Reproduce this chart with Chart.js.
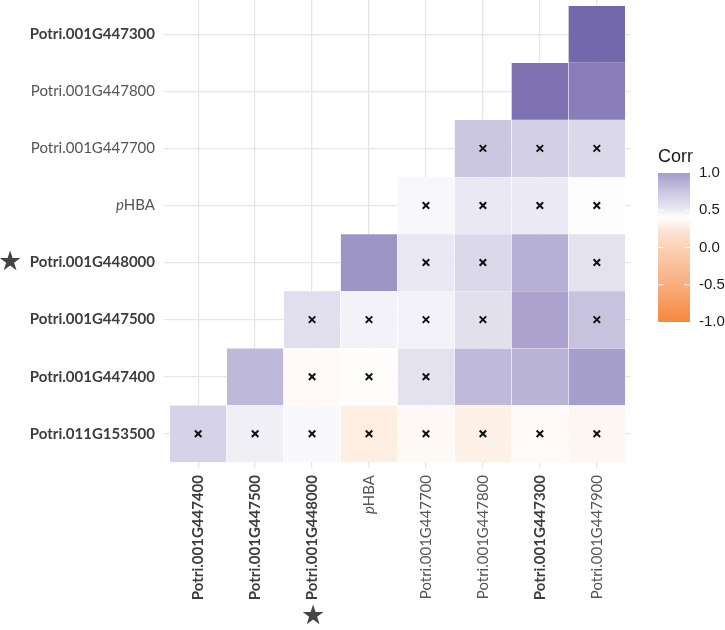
<!DOCTYPE html>
<html>
<head>
<meta charset="utf-8">
<script src="https://cdn.jsdelivr.net/npm/chart.js@4"></script>
<style>
  html,body{margin:0;padding:0;background:#fff;}
  #wrap{width:725px;height:630px;position:relative;}
</style>
</head>
<body>
<div id="wrap"><canvas id="chart_corr"></canvas></div>
<script>
// columns (left to right) and rows (bottom to top)
const colNames = ['Potri.001G447400','Potri.001G447500','Potri.001G448000','pHBA','Potri.001G447700','Potri.001G447800','Potri.001G447300','Potri.001G447900'];
const rowNames = ['Potri.011G153500','Potri.001G447400','Potri.001G447500','Potri.001G448000','pHBA','Potri.001G447700','Potri.001G447800','Potri.001G447300'];
const boldNames = ['Potri.011G153500','Potri.001G447400','Potri.001G447500','Potri.001G448000','Potri.001G447300'];
const starName = 'Potri.001G448000';

// lower triangle: row r holds columns r..7
const corrRows = [
  [0.28, 0.10, 0.04, -0.14, -0.05, -0.11, -0.04, -0.07],
  [0.44, -0.04, -0.02, 0.18, 0.43, 0.47, 0.60],
  [0.20, 0.08, 0.08, 0.19, 0.57, 0.38],
  [0.66, 0.15, 0.24, 0.49, 0.18],
  [0.05, 0.14, 0.13, 0.01],
  [0.35, 0.30, 0.24],
  [0.88, 0.80],
  [0.94]
];
// 1 = not significant (drawn with a cross)
const insigRows = [
  [1,1,1,1,1,1,1,1],
  [0,1,1,1,0,0,0],
  [1,1,1,1,0,1],
  [0,1,1,0,1],
  [1,1,1,1],
  [1,1,1],
  [0,0],
  [0]
];
const legendTicks = [1.0, 0.5, 0.0, -0.5, -1.0];

const HIGH=[107,94,168], LOW=[245,130,48];
function corrColor(v){
  const t=Math.min(1,Math.abs(v)), c=v>=0?HIGH:LOW;
  const m=c.map(k=>Math.round(255-(255-k)*t));
  return 'rgb('+m.join(',')+')';
}

const cells=[], cellCols=[], crosses=[];
corrRows.forEach((row,r)=>{
  row.forEach((v,j)=>{
    const c=r+j;
    cells.push({x:c, y:[r-0.5, r+0.5]});
    cellCols.push(corrColor(v));
    if(insigRows[r][j]) crosses.push({x:c, y:r});
  });
});

const labelFont = (name)=> (boldNames.includes(name)?'bold ':'')+'15px Lato';
function drawName(ctx, name, x, y){
  // right aligned at (x,y)
  ctx.fillStyle = boldNames.includes(name) ? '#3d3d3d' : '#555';
  ctx.textBaseline='middle';
  if(name==='pHBA'){
    ctx.font='italic 15px Lato';
    const w1=ctx.measureText('p').width;
    ctx.font='15px Lato';
    const w2=ctx.measureText('HBA').width;
    ctx.textAlign='left';
    ctx.font='italic 15px Lato';
    ctx.fillText('p', x-w1-w2, y);
    ctx.font='15px Lato';
    ctx.fillText('HBA', x-w2, y);
  } else {
    ctx.font=labelFont(name);
    ctx.textAlign='right';
    ctx.fillText(name, x, y);
  }
}

const decor = {
  id:'decor',
  afterDraw(chart){
    const ctx=chart.ctx, xs=chart.scales.x, ys=chart.scales.y;
    ctx.save();
    rowNames.forEach((n,i)=>{
      const y=ys.getPixelForValue(i);
      drawName(ctx, n, 155, y);
      if(n===starName){
        ctx.fillStyle='#444';
        ctx.font='27px "DejaVu Sans"';
        ctx.textAlign='center';
        ctx.textBaseline='middle';
        ctx.fillText('\u2605', 10, y);
      }
    });
    colNames.forEach((n,i)=>{
      const x=xs.getPixelForValue(i);
      ctx.save();
      ctx.translate(x, 475);
      ctx.rotate(-Math.PI/2);
      drawName(ctx, n, 0, 0);
      ctx.restore();
      if(n===starName){
        ctx.fillStyle='#444';
        ctx.font='27px "DejaVu Sans"';
        ctx.textAlign='center';
        ctx.textBaseline='middle';
        ctx.fillText('\u2605', x+1, 617);
      }
    });
    // colour bar legend
    const bx=658, bw=32, top=173, bot=322;
    ctx.fillStyle='#1a1a1a';
    ctx.font='18px "Liberation Sans"';
    ctx.textAlign='left';
    ctx.textBaseline='alphabetic';
    ctx.fillText('Corr', 658, 162);
    const g=ctx.createLinearGradient(0,top,0,bot);
    g.addColorStop(0,'#a69dcc');
    g.addColorStop(0.13,'#ccc7e3');
    g.addColorStop(0.25,'#edebf4');
    g.addColorStop(0.30,'#ffffff');
    g.addColorStop(0.38,'#fde6d8');
    g.addColorStop(0.5,'#fcd1b5');
    g.addColorStop(0.75,'#f9ad7e');
    g.addColorStop(1,'#f6883c');
    ctx.fillStyle=g;
    ctx.fillRect(bx,top,bw,bot-top);
    ctx.font='15px "Liberation Sans"';
    ctx.textBaseline='middle';
    legendTicks.forEach(v=>{
      const y=top+(1-v)/2*(bot-top);
      ctx.fillStyle='#1a1a1a';
      ctx.fillText(v.toFixed(1), 699, y);
      if(v<1 && v>-1){
        ctx.strokeStyle='rgba(255,255,255,0.9)';
        ctx.lineWidth=1;
        ctx.beginPath();
        ctx.moveTo(bx,y); ctx.lineTo(bx+6,y);
        ctx.moveTo(bx+bw-6,y); ctx.lineTo(bx+bw,y);
        ctx.stroke();
      }
    });
    ctx.restore();
  }
};

new Chart(document.getElementById('chart_corr'), {
  type:'bar',
  data:{ datasets:[
    { type:'scatter', data:crosses, pointStyle:'crossRot', radius:4.6, borderColor:'#111', borderWidth:2, order:0 },
    { data:cells, backgroundColor:cellCols, borderColor:'rgba(255,255,255,0.7)', borderWidth:0.6,
      barPercentage:1, categoryPercentage:1, grouped:false, order:1 }
  ]},
  options:{
    responsive:true, maintainAspectRatio:false, animation:false,
    layout:{ autoPadding:false, padding:{ left:164, right:94, top:0, bottom:162 } },
    plugins:{ legend:{display:false}, tooltip:{enabled:false} },
    scales:{
      x:{ type:'linear', min:-0.6, max:7.6, offset:false,
          afterBuildTicks:s=>{ s.ticks=colNames.map((_,i)=>({value:i})); },
          ticks:{display:false}, border:{display:false},
          grid:{color:'#e6e6e6', lineWidth:1.3, drawTicks:false, offset:false} },
      y:{ type:'linear', min:-0.6, max:7.6, offset:false,
          afterBuildTicks:s=>{ s.ticks=rowNames.map((_,i)=>({value:i})); },
          ticks:{display:false}, border:{display:false},
          grid:{color:'#e6e6e6', lineWidth:1.3, drawTicks:false, offset:false} }
    }
  },
  plugins:[decor]
});
</script>
</body>
</html>
